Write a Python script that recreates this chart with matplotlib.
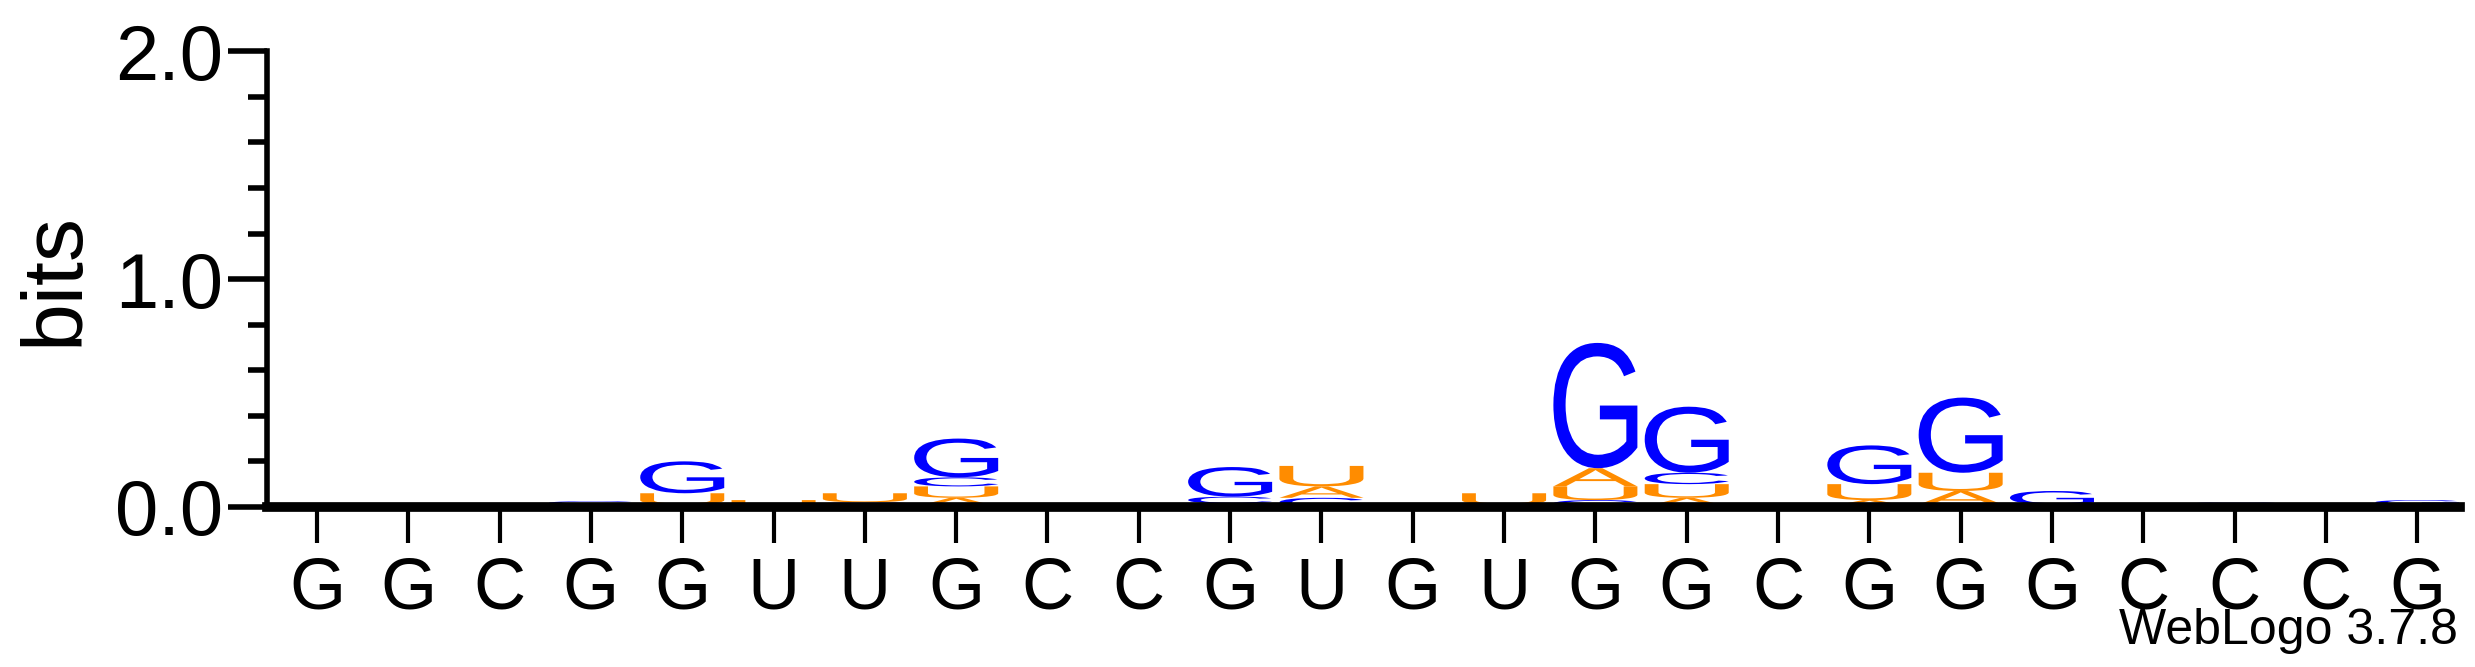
import matplotlib
matplotlib.use('Agg')
import matplotlib.pyplot as plt
from matplotlib.textpath import TextPath
from matplotlib.patches import PathPatch
from matplotlib.font_manager import FontProperties
from matplotlib.transforms import Affine2D

# consensus sequence (x tick labels)
seq = list("GGCGGUUGCCGUGUGGCGGGCCCG")
# letter stacks per position, bottom to top: (letter, bits)
stacks = [
    [], [], [],
    [('A', 0.01), ('C', 0.015)],
    [('C', 0.01), ('U', 0.05), ('G', 0.14)],
    [('A', 0.01), ('U', 0.02)],
    [('A', 0.01), ('C', 0.01), ('U', 0.04)],
    [('A', 0.04), ('U', 0.05), ('C', 0.04), ('G', 0.17)],
    [('U', 0.01)],
    [],
    [('A', 0.005), ('U', 0.01), ('C', 0.03), ('G', 0.13)],
    [('C', 0.04), ('A', 0.05), ('U', 0.09)],
    [('C', 0.01)],
    [('C', 0.005), ('A', 0.005), ('U', 0.05)],
    [('C', 0.03), ('U', 0.06), ('A', 0.08), ('G', 0.55)],
    [('A', 0.04), ('U', 0.06), ('C', 0.05), ('G', 0.29)],
    [],
    [('A', 0.03), ('U', 0.07), ('G', 0.17)],
    [('C', 0.01), ('A', 0.06), ('U', 0.08), ('G', 0.33)],
    [('A', 0.005), ('C', 0.005), ('G', 0.06)],
    [],
    [('U', 0.01), ('C', 0.01)],
    [],
    [('U', 0.01), ('G', 0.02)],
]
colors = {'A': '#FF8C00', 'U': '#FF8C00', 'G': '#0000FF', 'C': '#0000FF'}

fp = FontProperties(family=['Liberation Sans', 'DejaVu Sans'], weight='normal')
plt.rcParams['font.family'] = ['Liberation Sans', 'DejaVu Sans']

fig = plt.figure(figsize=(24.75, 6.67), dpi=100)
ax = fig.add_axes([0.108, 0.240, 0.886, 0.683])

def draw_letter(ax, ch, x, y, w, h):
    tp = TextPath((0, 0), ch, size=1, prop=fp)
    bb = tp.get_extents()
    t = Affine2D().translate(-bb.x0, -bb.y0).scale(w / bb.width, h / bb.height).translate(x - w / 2, y)
    ax.add_patch(PathPatch(t.transform_path(tp), fc=colors[ch], ec='none'))

for i, st in enumerate(stacks):
    y = 0.0
    for ch, h in st:
        draw_letter(ax, ch, i + 1, y, 0.92, h)
        y += h

ax.set_xlim(0.456, 24.47)
ax.set_ylim(0, 2)
ax.set_xticks(range(1, len(seq) + 1))
ax.set_xticklabels(seq, fontsize=52)
ax.set_yticks([0, 1, 2])
ax.set_yticklabels(['0.0', '1.0', '2.0'], fontsize=56)
ax.set_yticks([0.2 * k for k in range(11)], minor=True)
ax.tick_params(axis='y', which='major', length=28, width=4)
ax.tick_params(axis='y', which='minor', length=14, width=4)
ax.tick_params(axis='x', length=26, width=3, pad=10)
ax.set_ylabel('bits', fontsize=62, labelpad=14)
for s in ['top', 'right']:
    ax.spines[s].set_visible(False)
ax.spines['left'].set_linewidth(4)
ax.spines['bottom'].set_linewidth(7)
fig.text(0.993, 0.02, 'WebLogo 3.7.8', ha='right', va='bottom', fontsize=36)

fig.savefig('out.png', dpi=100)
